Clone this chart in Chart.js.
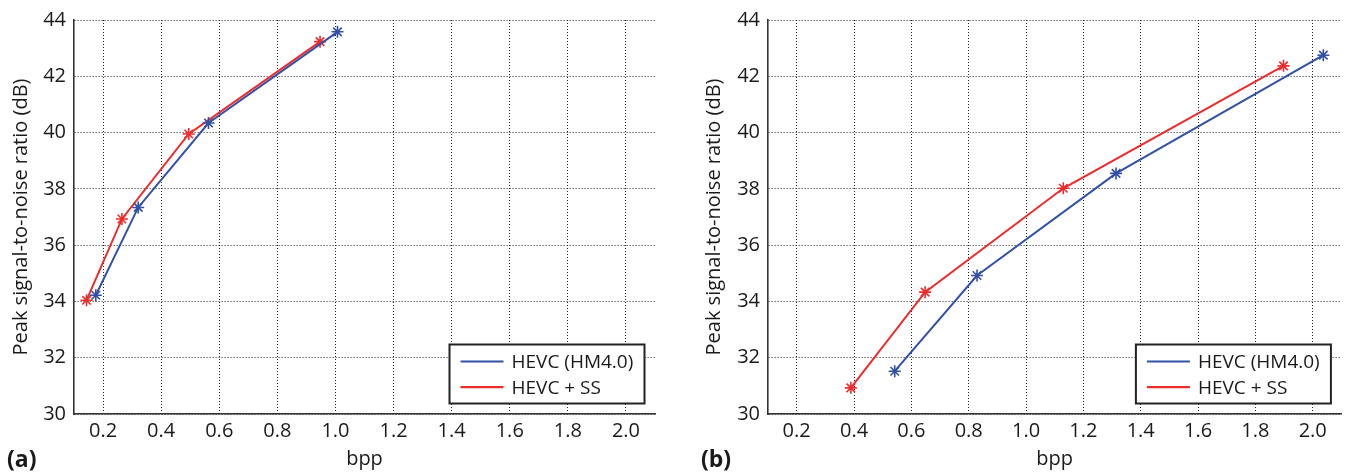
<!DOCTYPE html>
<html>
<head>
<meta charset="utf-8">
<script src="https://cdn.jsdelivr.net/npm/chart.js@4.4.1/dist/chart.umd.min.js"></script>
<style>
  html, body { margin: 0; padding: 0; background: #fff; }
  body { width: 1349px; height: 473px; position: relative; overflow: hidden; }
  .panel { position: absolute; top: 0; height: 473px; }
  .tag { position: absolute; top: 442px; line-height: 30px; font: bold 23px "Open Sans", sans-serif; color: #1a1a1a; }
</style>
</head>
<body>
<div class="panel" style="left:0;width:674px"><canvas id="chartA"></canvas></div>
<div class="panel" style="left:674px;width:675px"><canvas id="chartB"></canvas></div>
<div class="tag" id="tagA" style="left:7px"></div>
<div class="tag" id="tagB" style="left:701px"></div>
<script>
// --- DATA ---
const seriesNames = ["HEVC (HM4.0)", "HEVC + SS"];
const panelTags = ["(a)", "(b)"];
const xTickValues = [0.2, 0.4, 0.6, 0.8, 1.0, 1.2, 1.4, 1.6, 1.8, 2.0];
const yTickValues = [30, 32, 34, 36, 38, 40, 42, 44];

// panel (a)
const bppA_hm = [0.175, 0.321, 0.563, 1.007];
const psnrA_hm = [34.22, 37.34, 40.34, 43.58];
const bppA_ss = [0.143, 0.265, 0.495, 0.947];
const psnrA_ss = [34.04, 36.93, 39.95, 43.23];

// panel (b)
const bppB_hm = [0.542, 0.829, 1.314, 2.037];
const psnrB_hm = [31.52, 34.92, 38.55, 42.75];
const bppB_ss = [0.389, 0.648, 1.13, 1.898];
const psnrB_ss = [30.93, 34.33, 38.02, 42.37];
// ------------

const BLUE = "rgb(50, 80, 165)";
const RED = "rgb(236, 44, 44)";
const TEXT = "#1a1a1a";
const FONT = "'Open Sans', sans-serif";

document.getElementById("tagA").textContent = panelTags[0];
document.getElementById("tagB").textContent = panelTags[1];

function toPoints(xs, ys) {
  return xs.map((x, i) => ({ x: x, y: ys[i] }));
}

// --- legend box drawn inside the plot, bottom right ---
const boxLegend = {
  id: "boxLegend",
  afterDraw(chart) {
    const { ctx, chartArea } = chart;
    const w = 195, h = 59;
    const left = chartArea.right - 10.5 - w;
    const top = chartArea.bottom - 10.5 - h;
    ctx.save();
    ctx.fillStyle = "#fff";
    ctx.fillRect(left, top, w, h);
    ctx.strokeStyle = "#222";
    ctx.lineWidth = 2;
    ctx.strokeRect(left, top, w, h);
    chart.data.datasets.forEach((ds, i) => {
      const y = top + 17 + i * 25.6;
      ctx.strokeStyle = ds.borderColor;
      ctx.lineWidth = 2.2;
      ctx.beginPath();
      ctx.moveTo(left + 11, y);
      ctx.lineTo(left + 54, y);
      ctx.stroke();
      ctx.fillStyle = TEXT;
      ctx.font = "19px " + FONT;
      ctx.textBaseline = "middle";
      ctx.fillText(ds.label, left + 62, y + 1);
    });
    ctx.restore();
  },
};

function makeChart(id, geo, hm, ss) {
  const ds = (label, color, pts) => ({
    label: label,
    data: pts,
    borderColor: color,
    backgroundColor: color,
    borderWidth: 2,
    showLine: true,
    tension: 0,
    pointStyle: "star",
    pointRadius: 6,
    pointBorderWidth: 1.6,
    pointBorderColor: color,
  });

  return new Chart(document.getElementById(id), {
    type: "scatter",
    data: {
      datasets: [
        ds(seriesNames[0], BLUE, hm),
        ds(seriesNames[1], RED, ss),
      ],
    },
    options: {
      responsive: true,
      maintainAspectRatio: false,
      animation: false,
      layout: { padding: { left: 0, top: 19, right: geo.right, bottom: 0 } },
      plugins: { legend: { display: false }, tooltip: { enabled: false } },
      scales: {
        x: {
          type: "linear",
          min: 0.1,
          max: 2.1,
          afterBuildTicks: (scale) => {
            scale.ticks = xTickValues.map((v) => ({ value: v }));
          },
          afterFit: (scale) => {
            scale.height = 59;
          },
          grid: { color: "#222", lineWidth: 1, drawTicks: false },
          // border.dash = dash of the grid lines; the axis line stays solid
          border: { color: "#333", width: 1.6, dash: [1, 2] },
          ticks: {
            padding: 5,
            color: TEXT,
            font: { family: FONT, size: 20 },
            callback: (v) => Number(v).toFixed(1),
          },
          title: {
            display: true,
            text: "bpp",
            color: TEXT,
            font: { family: FONT, size: 20 },
            padding: { top: 0, bottom: 2 },
          },
        },
        y: {
          type: "linear",
          min: 30,
          max: 44,
          afterBuildTicks: (scale) => {
            scale.ticks = yTickValues.map((v) => ({ value: v }));
          },
          afterFit: (scale) => {
            scale.width = geo.left;
          },
          grid: { color: "#222", lineWidth: 1, drawTicks: false },
          border: { color: "#333", width: 1.6, dash: [1, 2] },
          ticks: {
            padding: 8,
            color: TEXT,
            font: { family: FONT, size: 20 },
          },
          title: {
            display: true,
            text: "Peak signal-to-noise ratio (dB)",
            color: TEXT,
            font: { family: FONT, size: 20 },
            padding: { top: geo.titlePad, bottom: 0 },
          },
        },
      },
    },
    plugins: [boxLegend],
  });
}

makeChart("chartA", { left: 74, right: 19, titlePad: 9 },
  toPoints(bppA_hm, psnrA_hm), toPoints(bppA_ss, psnrA_ss));
makeChart("chartB", { left: 94, right: 2, titlePad: 28 },
  toPoints(bppB_hm, psnrB_hm), toPoints(bppB_ss, psnrB_ss));
</script>
</body>
</html>
